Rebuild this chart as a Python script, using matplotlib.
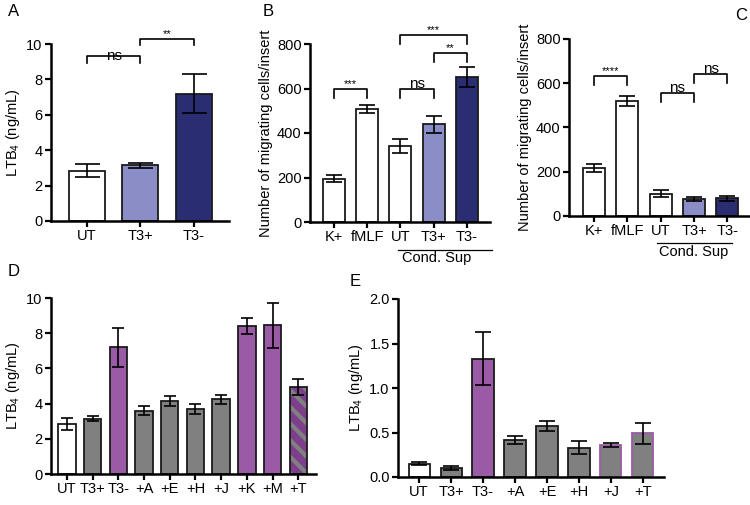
import matplotlib
matplotlib.use("Agg")
import matplotlib.pyplot as plt
import numpy as np

plt.rcParams['font.family'] = ['Liberation Sans', 'DejaVu Sans']
plt.rcParams['mathtext.default'] = 'regular'
plt.rcParams['hatch.linewidth'] = 3.0

FS_TICK = 10.5
FS_LABEL = 10.5
FS_LETTER = 12

# --- Data ---
a_labels = ['UT', 'T3+', 'T3-']
a_vals = [2.85, 3.15, 7.2]
a_err = [0.35, 0.15, 1.12]

b_labels = ['K+', 'fMLF', 'UT', 'T3+', 'T3-']
b_vals = [195, 508, 340, 440, 650]
b_err = [16, 18, 32, 38, 45]

c_labels = ['K+', 'fMLF', 'UT', 'T3+', 'T3-']
c_vals = [218, 518, 100, 77, 80]
c_err = [18, 23, 16, 10, 10]

d_labels = ['UT', 'T3+', 'T3-', '+A', '+E', '+H', '+J', '+K', '+M', '+T']
d_vals = [2.85, 3.15, 7.2, 3.6, 4.15, 3.7, 4.25, 8.4, 8.45, 4.95]
d_err = [0.35, 0.15, 1.12, 0.25, 0.3, 0.28, 0.25, 0.45, 1.28, 0.45]

e_labels = ['UT', 'T3+', 'T3-', '+A', '+E', '+H', '+J', '+T']
e_vals = [0.15, 0.10, 1.33, 0.42, 0.57, 0.33, 0.36, 0.49]
e_err = [0.02, 0.02, 0.30, 0.045, 0.055, 0.075, 0.025, 0.12]

WHITE = 'white'
LIGHT = '#8a8dc6'
NAVY = '#2b2d72'
PURPLE = '#9b5aa6'
GRAY = '#808080'
EDGE = '#1a1a1a'

W, H = 750, 505
fig = plt.figure(figsize=(7.5, 5.05), dpi=100)


def add_axes_px(left, right, top, bottom):
    return fig.add_axes([left / W, 1 - bottom / H, (right - left) / W, (bottom - top) / H])


def style_axis(ax, labels, ylim, yticks, yticklabels=None):
    for s in ['top', 'right']:
        ax.spines[s].set_visible(False)
    for s in ['left', 'bottom']:
        ax.spines[s].set_linewidth(1.8)
    ax.tick_params(axis='both', width=1.6, length=4, labelsize=FS_TICK, pad=2)
    ax.set_xticks(range(len(labels)))
    ax.set_xticklabels(labels)
    ax.set_ylim(*ylim)
    ax.set_yticks(yticks)
    if yticklabels is not None:
        ax.set_yticklabels(yticklabels)


def draw_bars(ax, vals, errs, colors, width, edges=None, capsize=6):
    x = np.arange(len(vals))
    if edges is None:
        edges = [EDGE] * len(vals)
    ax.bar(x, vals, width=width, color=colors, edgecolor=edges, linewidth=1.3, zorder=2)
    ax.errorbar(x, vals, yerr=errs, fmt='none', ecolor='black', elinewidth=1.2,
                capsize=capsize, capthick=1.2, zorder=3)


def bracket(ax, x1, x2, y, drop, text, fs=10.5, dy=0.0):
    ax.plot([x1, x1, x2, x2], [y - drop, y, y, y - drop], color='black', lw=1.2,
            clip_on=False, zorder=4)
    ax.text((x1 + x2) / 2, y + dy, text, ha='center', va='bottom', fontsize=fs, clip_on=False)


def cond_sup(ax, x1, x2, xt):
    trans = ax.get_xaxis_transform()
    ax.plot([x1, x2], [-0.155, -0.155], color='black', lw=0.9, transform=trans, clip_on=False)
    ax.text(xt, -0.165, 'Cond. Sup', transform=trans, ha='center', va='top', fontsize=FS_TICK)


# --- Panel A ---
axA = add_axes_px(51, 229, 44, 221)
draw_bars(axA, a_vals, a_err, [WHITE, LIGHT, NAVY], 0.675, capsize=9)
style_axis(axA, a_labels, (0, 10), [0, 2, 4, 6, 8, 10])
axA.set_xlim(-0.675, 2.66)
axA.set_ylabel(r'LTB$_4$ (ng/mL)', fontsize=FS_LABEL, labelpad=3)
bracket(axA, 0, 1, 9.3, 0.35, 'ns', fs=11, dy=-0.4)
bracket(axA, 1, 2, 10.3, 0.35, '**', fs=8)
fig.text(8 / W, 1 - 12 / H, 'A', fontsize=FS_LETTER, va='center', ha='left')

# --- Panel B ---
axB = add_axes_px(310, 490, 44, 222)
draw_bars(axB, b_vals, b_err, [WHITE, WHITE, WHITE, LIGHT, NAVY], 0.66, capsize=6)
style_axis(axB, b_labels, (0, 800), [0, 200, 400, 600, 800])
axB.set_xlim(-0.72, 4.7)
axB.set_ylabel('Number of migrating cells/insert', fontsize=FS_LABEL, labelpad=3)
bracket(axB, 0, 1, 598, 40, '***', fs=8)
bracket(axB, 2, 3, 598, 40, 'ns', fs=11, dy=-8)
bracket(axB, 3, 4, 760, 40, '**', fs=8)
bracket(axB, 2, 4, 840, 40, '***', fs=8)
cond_sup(axB, 1.92, 4.75, 3.1)
fig.text(263 / W, 1 - 11 / H, 'B', fontsize=FS_LETTER, va='center', ha='left')

# --- Panel C ---
axC = add_axes_px(569, 750, 39, 216)
draw_bars(axC, c_vals, c_err, [WHITE, WHITE, WHITE, LIGHT, NAVY], 0.66, capsize=6)
style_axis(axC, c_labels, (0, 800), [0, 200, 400, 600, 800])
axC.set_xlim(-0.75, 4.68)
axC.set_ylabel('Number of migrating cells/insert', fontsize=FS_LABEL, labelpad=3)
bracket(axC, 0, 1, 632, 40, '****', fs=8)
bracket(axC, 2, 3, 557, 40, 'ns', fs=11, dy=-8)
bracket(axC, 3, 4, 641, 40, 'ns', fs=11, dy=-8)
cond_sup(axC, 1.9, 4.15, 3.0)
fig.text(735 / W, 1 - 15 / H, 'C', fontsize=FS_LETTER, va='center', ha='left')

# --- Panel D ---
axD = add_axes_px(51, 316, 298, 474)
d_colors = [WHITE, GRAY, PURPLE, GRAY, GRAY, GRAY, GRAY, PURPLE, PURPLE, PURPLE]
xd = np.arange(len(d_vals))
axD.bar(xd[:-1], d_vals[:-1], width=0.68, color=d_colors[:-1], edgecolor=EDGE,
        linewidth=1.3, zorder=2)
# hatched last bar: purple face with gray stripes
axD.bar(xd[-1], d_vals[-1], width=0.68, color='#7d3f8c', edgecolor=GRAY, hatch='\\\\',
        linewidth=0, zorder=2)
axD.bar(xd[-1], d_vals[-1], width=0.68, fill=False, edgecolor=EDGE, linewidth=1.3, zorder=2)
axD.errorbar(xd, d_vals, yerr=d_err, fmt='none', ecolor='black', elinewidth=1.2,
             capsize=4.5, capthick=1.2, zorder=3)
style_axis(axD, d_labels, (0, 10), [0, 2, 4, 6, 8, 10])
axD.set_xlim(-0.62, 9.69)
axD.set_ylabel(r'LTB$_4$ (ng/mL)', fontsize=FS_LABEL, labelpad=3)
fig.text(8 / W, 1 - 272 / H, 'D', fontsize=FS_LETTER, va='center', ha='left')

# --- Panel E ---
axE = add_axes_px(398, 664, 299, 477)
e_colors = [WHITE, GRAY, PURPLE, GRAY, GRAY, GRAY, GRAY, GRAY]
e_edges = [EDGE] * 6 + [PURPLE, PURPLE]
draw_bars(axE, e_vals, e_err, e_colors, 0.66, edges=e_edges, capsize=6)
style_axis(axE, e_labels, (0, 2.0), [0, 0.5, 1.0, 1.5, 2.0],
           ['0.0', '0.5', '1.0', '1.5', '2.0'])
axE.set_xlim(-0.66, 7.66)
axE.set_ylabel(r'LTB$_4$ (ng/mL)', fontsize=FS_LABEL, labelpad=3)
fig.text(350 / W, 1 - 282 / H, 'E', fontsize=FS_LETTER, va='center', ha='left')

fig.savefig('out.png', dpi=100)
